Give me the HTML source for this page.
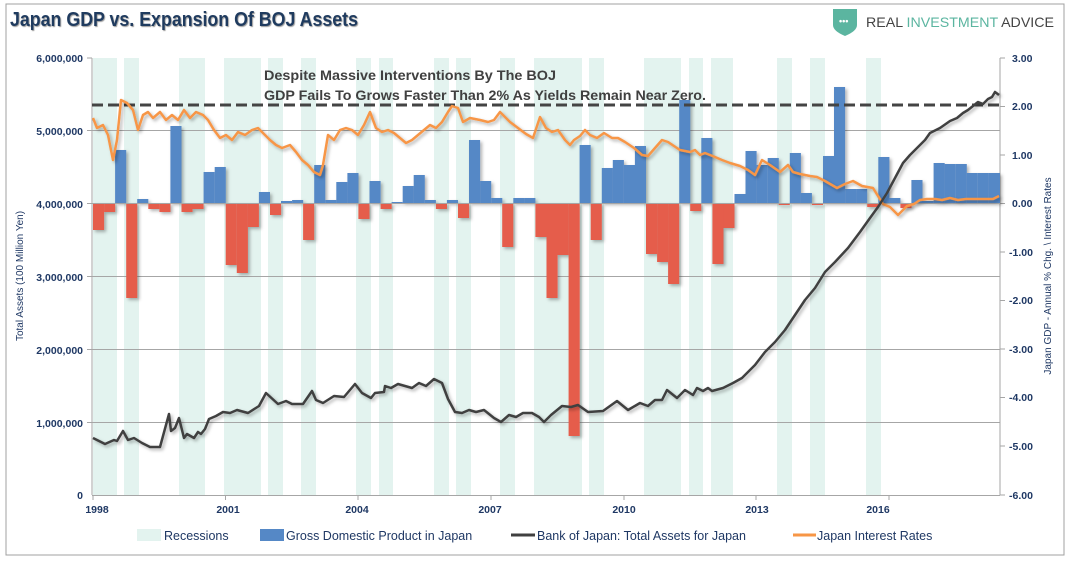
<!DOCTYPE html>
<html><head><meta charset="utf-8"><style>
html,body{margin:0;padding:0;background:#fff;}
svg{display:block;font-family:"Liberation Sans",sans-serif;}
</style></head><body>
<svg width="1071" height="565" viewBox="0 0 1071 565" xmlns="http://www.w3.org/2000/svg">
<defs>
<filter id="sh" x="-20%" y="-20%" width="140%" height="140%"><feDropShadow dx="2" dy="2" stdDeviation="1.5" flood-color="#000" flood-opacity="0.3"/></filter>
</defs>
<rect x="6" y="4" width="1058" height="551" fill="#fff" stroke="#a0a0a0" stroke-width="1"/>
<text x="10" y="26" font-size="20" font-weight="bold" fill="#1f3b5f" textLength="348" lengthAdjust="spacingAndGlyphs" style="text-shadow:1px 1px 1px #999">Japan GDP vs. Expansion Of BOJ Assets</text>
<!-- logo -->
<path d="M833 9 h24 v16 q0 6 -12 11 q-12 -5 -12 -11 z" fill="#5bb5a0"/>
<text x="839" y="24" font-size="9" fill="#fff" font-weight="bold">•••</text>
<text x="866" y="27" font-size="14" fill="#444" textLength="188" lengthAdjust="spacingAndGlyphs">REAL <tspan fill="#5bb5a0">INVESTMENT</tspan> ADVICE</text>
<!-- recessions -->
<g fill="#e3f3ef">
<rect x="93" y="58" width="24" height="437"/><rect x="124" y="58" width="15" height="437"/>
<rect x="179" y="58" width="26" height="437"/><rect x="224" y="58" width="37" height="437"/>
<rect x="268" y="58" width="15" height="437"/><rect x="301" y="58" width="15" height="437"/>
<rect x="356" y="58" width="15" height="437"/><rect x="379" y="58" width="14" height="437"/>
<rect x="434" y="58" width="15" height="437"/><rect x="456" y="58" width="15" height="437"/>
<rect x="500" y="58" width="15" height="437"/><rect x="534" y="58" width="48" height="437"/>
<rect x="589" y="58" width="15" height="437"/><rect x="644" y="58" width="37" height="437"/>
<rect x="689" y="58" width="14" height="437"/><rect x="711" y="58" width="22" height="437"/>
<rect x="777" y="58" width="15" height="437"/><rect x="810" y="58" width="15" height="437"/>
<rect x="866" y="58" width="15" height="437"/>
</g>
<!-- gridlines -->
<g stroke="#a6a6a6" stroke-width="1">
<line x1="92" y1="130.5" x2="1000" y2="130.5"/><line x1="92" y1="276.5" x2="1000" y2="276.5"/>
<line x1="92" y1="349.5" x2="1000" y2="349.5"/><line x1="92" y1="422.5" x2="1000" y2="422.5"/>
<line x1="92" y1="58" x2="92" y2="495"/><line x1="1000" y1="58" x2="1000" y2="495"/>
<line x1="92" y1="495.5" x2="1000" y2="495.5"/>
</g>
<g stroke="#a6a6a6"><line x1="87" y1="58" x2="92" y2="58"/><line x1="87" y1="130.5" x2="92" y2="130.5"/><line x1="87" y1="203.5" x2="92" y2="203.5"/><line x1="87" y1="276.5" x2="92" y2="276.5"/><line x1="87" y1="349.5" x2="92" y2="349.5"/><line x1="87" y1="422.5" x2="92" y2="422.5"/>
<line x1="1000" y1="58" x2="1005" y2="58"/><line x1="1000" y1="106.5" x2="1005" y2="106.5"/><line x1="1000" y1="155" x2="1005" y2="155"/><line x1="1000" y1="203.5" x2="1005" y2="203.5"/><line x1="1000" y1="252" x2="1005" y2="252"/><line x1="1000" y1="300.5" x2="1005" y2="300.5"/><line x1="1000" y1="349" x2="1005" y2="349"/><line x1="1000" y1="397.5" x2="1005" y2="397.5"/><line x1="1000" y1="446" x2="1005" y2="446"/><line x1="1000" y1="495" x2="1005" y2="495"/>
<line x1="93" y1="495" x2="93" y2="500"/><line x1="225.5" y1="495" x2="225.5" y2="500"/><line x1="358" y1="495" x2="358" y2="500"/><line x1="491" y1="495" x2="491" y2="500"/><line x1="624" y1="495" x2="624" y2="500"/><line x1="756" y1="495" x2="756" y2="500"/><line x1="889" y1="495" x2="889" y2="500"/>
</g>
<!-- bars -->
<g filter="url(#sh)">
<g fill="#e55d4b">
<rect x="93" y="203" width="11.1" height="27"/><rect x="104.1" y="203" width="11.1" height="9"/>
<rect x="126.2" y="203" width="11.1" height="95"/><rect x="148.3" y="203" width="11.1" height="6"/>
<rect x="159.4" y="203" width="11.1" height="9"/><rect x="181.5" y="203" width="11.1" height="9"/>
<rect x="192.5" y="203" width="11.1" height="6"/><rect x="225.7" y="203" width="11.1" height="62"/>
<rect x="236.8" y="203" width="11.1" height="70"/><rect x="247.8" y="203" width="11.1" height="24"/>
<rect x="270" y="203" width="11.1" height="12"/><rect x="303.1" y="203" width="11.1" height="37"/>
<rect x="358.4" y="203" width="11.1" height="16"/><rect x="380.6" y="203" width="11.1" height="6"/>
<rect x="435.9" y="203" width="11.1" height="6"/><rect x="458" y="203" width="11.1" height="15"/>
<rect x="502.2" y="203" width="11.1" height="44"/><rect x="535.4" y="203" width="11.1" height="34"/>
<rect x="546.5" y="203" width="11.1" height="95"/><rect x="557.5" y="203" width="11.1" height="52"/>
<rect x="568.6" y="203" width="11.1" height="233"/><rect x="590.7" y="203" width="11.1" height="37"/>
<rect x="646" y="203" width="11.1" height="51"/><rect x="657.1" y="203" width="11.1" height="59"/>
<rect x="668.1" y="203" width="11.1" height="81"/><rect x="690.2" y="203" width="11.1" height="8"/>
<rect x="712.4" y="203" width="11.1" height="61"/><rect x="723.4" y="203" width="11.1" height="25"/>
<rect x="778.7" y="203" width="11.1" height="2"/><rect x="811.9" y="203" width="11.1" height="2"/>
<rect x="867.2" y="203" width="11.1" height="4"/><rect x="900.4" y="203" width="11.1" height="5"/>
</g>
<g fill="#5588c6">
<rect x="115.1" y="150" width="11.1" height="53"/><rect x="137.2" y="199" width="11.1" height="4"/>
<rect x="170.4" y="126" width="11.1" height="77"/><rect x="203.6" y="172" width="11.1" height="31"/>
<rect x="214.7" y="167" width="11.1" height="36"/><rect x="258.9" y="192" width="11.1" height="11"/>
<rect x="281" y="201" width="11.1" height="2"/><rect x="292.1" y="200" width="11.1" height="3"/>
<rect x="314.2" y="165" width="11.1" height="38"/><rect x="325.3" y="200" width="11.1" height="3"/>
<rect x="336.3" y="182" width="11.1" height="21"/><rect x="347.4" y="173" width="11.1" height="30"/>
<rect x="369.5" y="181" width="11.1" height="22"/><rect x="391.6" y="202" width="11.1" height="1"/>
<rect x="402.7" y="186" width="11.1" height="17"/><rect x="413.7" y="175" width="11.1" height="28"/>
<rect x="424.8" y="200" width="11.1" height="3"/><rect x="446.9" y="200" width="11.1" height="3"/>
<rect x="469" y="140" width="11.1" height="63"/><rect x="480.1" y="181" width="11.1" height="22"/>
<rect x="491.2" y="198" width="11.1" height="5"/><rect x="513.3" y="198" width="11.1" height="5"/>
<rect x="524.3" y="198" width="11.1" height="5"/><rect x="579.6" y="145" width="11.1" height="58"/>
<rect x="601.8" y="168" width="11.1" height="35"/><rect x="612.8" y="160" width="11.1" height="43"/>
<rect x="623.9" y="165" width="11.1" height="38"/><rect x="634.9" y="146" width="11.1" height="57"/>
<rect x="679.2" y="100" width="11.1" height="103"/><rect x="701.3" y="138" width="11.1" height="65"/>
<rect x="734.5" y="194" width="11.1" height="9"/><rect x="745.5" y="151" width="11.1" height="52"/>
<rect x="756.6" y="165" width="11.1" height="38"/><rect x="767.7" y="158" width="11.1" height="45"/>
<rect x="789.8" y="153" width="11.1" height="50"/><rect x="800.8" y="193" width="11.1" height="10"/>
<rect x="823" y="156" width="11.1" height="47"/><rect x="834" y="87" width="11.1" height="116"/>
<rect x="845.1" y="189" width="11.1" height="14"/><rect x="856.1" y="189" width="11.1" height="14"/>
<rect x="878.3" y="157" width="11.1" height="46"/><rect x="889.3" y="198" width="11.1" height="5"/>
<rect x="911.4" y="180" width="11.1" height="23"/><rect x="922.5" y="201" width="11.1" height="2"/>
<rect x="933.6" y="163" width="11.1" height="40"/><rect x="944.6" y="164" width="11.1" height="39"/>
<rect x="955.7" y="164" width="11.1" height="39"/><rect x="966.7" y="173" width="11.1" height="30"/>
<rect x="977.8" y="173" width="11.1" height="30"/><rect x="988.9" y="173" width="11.1" height="30"/>
</g>
</g>
<line x1="92" y1="203.5" x2="1000" y2="203.5" stroke="#a6a6a6"/>
<!-- dashed -->
<line x1="92" y1="105" x2="1000" y2="105" stroke="#444" stroke-width="3" stroke-dasharray="11,5"/>
<!-- interest rates -->
<polyline filter="url(#sh)" fill="none" stroke="#f79646" stroke-width="2.5" stroke-linejoin="round" points="93,118 97,128 103,125 108,135 113,160 117,140 121,100 127,103 133,110 138,130 143,115 148,112 153,118 160,112 166,120 172,115 178,120 184,110 190,118 196,112 203,115 208,120 214,130 220,138 226,135 232,140 238,132 245,135 252,130 258,128 264,134 270,140 276,145 282,148 290,145 296,152 302,160 308,165 314,172 320,175 323,165 328,135 334,140 340,130 346,128 352,130 358,135 364,125 370,112 376,128 382,132 388,130 394,133 400,138 406,143 412,140 418,135 424,130 430,125 436,128 442,122 448,112 452,106 458,108 463,122 470,118 480,120 488,122 494,120 500,112 510,122 518,128 526,134 533,138 540,117 546,128 552,132 558,130 565,140 570,145 574,140 580,136 585,130 590,135 597,138 604,133 612,138 618,138 625,142 634,148 642,155 648,156 655,148 662,140 668,142 680,150 690,152 695,150 700,155 705,153 715,157 722,160 730,163 740,166 748,170 755,175 762,160 770,165 780,172 788,165 793,172 800,174 810,176 817,177 825,181 837,188 845,184 853,181 862,186 873,188 878,196 883,204 890,207 898,215 903,210 907,206 914,204 920,200 927,199 935,199 942,200 950,198 958,200 966,199 975,199 985,199 993,199 999,196"/>
<!-- BOJ -->
<polyline filter="url(#sh)" fill="none" stroke="#404040" stroke-width="2.5" stroke-linejoin="round" points="93,438 105,444 114,440 117,441 123,431 128,440 134,438 142,443 150,447 160,447 169,414 171,431 175,428 179,418 184,438 187,434 194,438 198,432 201,434 205,429 209,419 216,416 223,412 230,413 237,410 248,413 259,406 266,393 278,404 286,401 292,404 303,404 312,391 316,400 323,403 334,396 344,397 355,384 362,393 371,398 375,393 384,392 385,386 391,388 398,384 405,386 412,388 419,383 426,386 434,379 442,383 448,399 455,412 462,413 469,410 476,412 484,410 494,418 501,422 509,415 516,417 523,413 532,413 539,417 544,422 551,415 562,406 571,407 578,405 588,412 603,411 617,401 628,410 640,403 648,406 655,400 662,400 667,390 677,398 685,390 693,395 697,388 703,391 708,388 712,391 723,388 733,383 742,378 755,365 765,352 775,342 785,330 795,315 805,300 815,288 825,272 835,262 848,248 860,232 870,218 878,207 887,193 895,178 903,163 910,155 917,148 925,140 930,133 940,128 950,121 957,118 963,113 968,110 973,106 978,102 983,104 988,99 992,97 995,92 999,95"/>
<!-- annotation -->
<text x="264" y="80" font-size="14" font-weight="bold" fill="#404040" textLength="292" lengthAdjust="spacingAndGlyphs">Despite Massive Interventions By The BOJ</text>
<text x="264" y="100" font-size="14" font-weight="bold" fill="#404040" textLength="442" lengthAdjust="spacingAndGlyphs">GDP Fails To Grows Faster Than 2% As Yields Remain Near Zero.</text>
<!-- left labels -->
<g font-size="10.5" font-weight="bold" fill="#1f3864" text-anchor="end">
<text x="83" y="62">6,000,000</text><text x="83" y="135">5,000,000</text><text x="83" y="208">4,000,000</text><text x="83" y="281">3,000,000</text><text x="83" y="354">2,000,000</text><text x="83" y="427">1,000,000</text><text x="83" y="499">0</text>
</g>
<g font-size="10.5" font-weight="bold" fill="#1f3864">
<text x="1012" y="62">3.00</text><text x="1012" y="110">2.00</text><text x="1012" y="159">1.00</text><text x="1012" y="207">0.00</text><text x="1009" y="256">-1.00</text><text x="1009" y="304">-2.00</text><text x="1009" y="353">-3.00</text><text x="1009" y="401">-4.00</text><text x="1009" y="450">-5.00</text><text x="1009" y="499">-6.00</text>
</g>
<g font-size="10.5" font-weight="bold" fill="#1f3864" text-anchor="middle">
<text x="97" y="513">1998</text><text x="228" y="513">2001</text><text x="357" y="513">2004</text><text x="490" y="513">2007</text><text x="624" y="513">2010</text><text x="757" y="513">2013</text><text x="878" y="513">2016</text>
</g>
<text transform="translate(23,276) rotate(-90)" font-size="10" fill="#1f3864" text-anchor="middle">Total Assets (100 Million Yen)</text>
<text transform="translate(1051,276) rotate(-90)" font-size="10" fill="#1f3864" text-anchor="middle">Japan GDP - Annual % Chg. \ Interest Rates</text>
<!-- legend -->
<rect x="137" y="529" width="24" height="12" fill="#e3f3ef"/>
<text x="164" y="540" font-size="12.5" fill="#1f3864">Recessions</text>
<rect x="260" y="529" width="24" height="12" fill="#5588c6"/>
<text x="286" y="540" font-size="12.5" fill="#1f3864">Gross Domestic Product in Japan</text>
<line x1="511" y1="535" x2="535" y2="535" stroke="#404040" stroke-width="3"/>
<text x="537" y="540" font-size="12.5" fill="#1f3864">Bank of Japan: Total Assets for Japan</text>
<line x1="793" y1="535" x2="816" y2="535" stroke="#f79646" stroke-width="3"/>
<text x="817" y="540" font-size="12.5" fill="#1f3864">Japan Interest Rates</text>
</svg>
</body></html>
